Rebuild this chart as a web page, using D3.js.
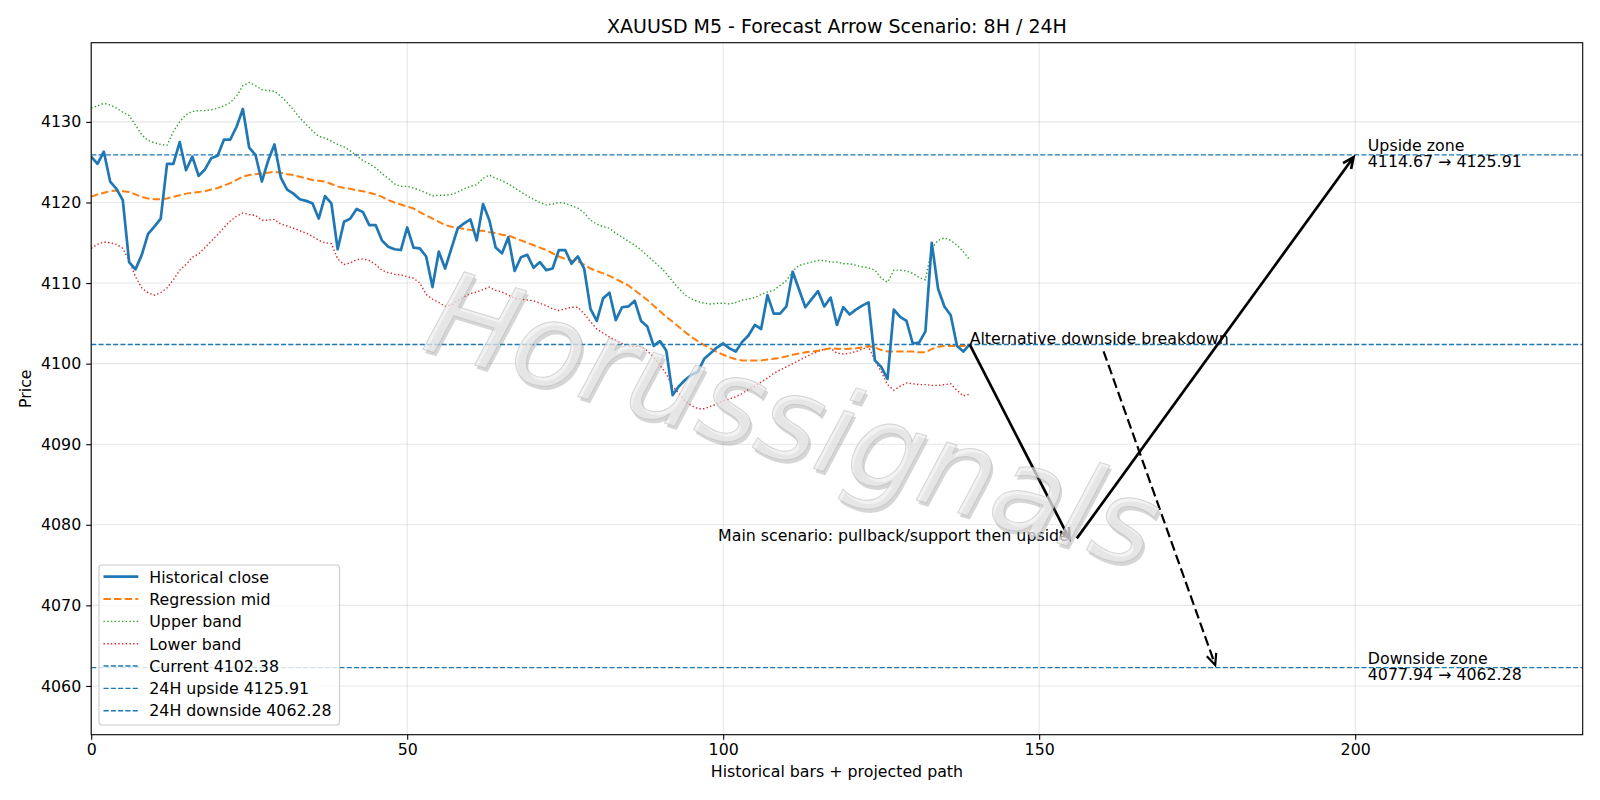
<!DOCTYPE html>
<html>
<head>
<meta charset="utf-8">
<script src="https://cdn.jsdelivr.net/npm/d3@7/dist/d3.min.js"></script>
<style>
  body { margin: 0; background: #fff; }
  svg text { font-family: "DejaVu Sans", sans-serif; fill: #000; }
</style>
</head>
<body>
<script>
// historical closes, one per M5 bar (0..139)
const closeSeries = [
  4125.7, 4124.8, 4126.3, 4122.6, 4121.7, 4120.3, 4112.6, 4111.7, 4113.5, 4116.1,
  4117.0, 4118.0, 4124.8, 4124.8, 4127.5, 4124.0, 4125.7, 4123.3, 4124.1, 4125.5,
  4125.8, 4127.8, 4127.8, 4129.4, 4131.6, 4126.8, 4125.9, 4122.6, 4125.2, 4127.2,
  4123.1, 4121.6, 4121.1, 4120.4, 4120.2, 4119.9, 4118.0, 4120.8, 4119.9, 4114.2,
  4117.6, 4118.0, 4119.2, 4118.8, 4117.2, 4117.2, 4115.3, 4114.5, 4114.2, 4114.1,
  4116.9, 4114.4, 4114.3, 4113.3, 4109.5, 4113.9, 4111.8, 4114.3, 4116.8, 4117.4,
  4117.9, 4115.3, 4119.8, 4117.8, 4114.4, 4113.7, 4115.7, 4111.5, 4113.2, 4113.5,
  4111.9, 4112.6, 4111.6, 4111.8, 4114.1, 4114.1, 4112.4, 4113.3, 4111.8, 4106.8,
  4105.3, 4108.1, 4108.8, 4105.4, 4107.0, 4107.1, 4107.8, 4105.3, 4104.6, 4102.2,
  4102.8, 4101.6, 4096.1, 4097.2, 4098.0, 4098.6, 4099.0, 4100.6, 4101.3, 4102.0,
  4102.5, 4101.9, 4101.5, 4102.7, 4103.5, 4104.8, 4104.3, 4108.5, 4106.2, 4106.2,
  4107.1, 4111.4, 4109.2, 4107.0, 4108.0, 4109.0, 4107.1, 4108.2, 4104.8, 4107.0,
  4106.1, 4106.7, 4107.2, 4107.6, 4100.4, 4099.6, 4098.1, 4106.7, 4105.8, 4105.3,
  4102.5, 4102.6, 4104.0, 4115.0, 4109.3, 4107.1, 4106.0, 4102.2, 4101.5, 4102.38
]

const midSeries = [
  4120.7, 4121.0, 4121.2, 4121.4, 4121.5, 4121.4, 4121.3, 4121.0, 4120.7, 4120.5,
  4120.4, 4120.4, 4120.5, 4120.7, 4120.9, 4121.1, 4121.2, 4121.3, 4121.4, 4121.6,
  4121.8, 4122.1, 4122.4, 4122.8, 4123.2, 4123.4, 4123.5, 4123.6, 4123.7, 4123.8,
  4123.7, 4123.5, 4123.4, 4123.2, 4123.0, 4122.8, 4122.7, 4122.6, 4122.3, 4122.0,
  4121.8, 4121.7, 4121.5, 4121.4, 4121.2, 4121.0, 4120.7, 4120.3, 4120.0, 4119.75,
  4119.5, 4119.25, 4118.8, 4118.4, 4118.0, 4117.6, 4117.2, 4117.0, 4116.9, 4116.7,
  4116.6, 4116.5, 4116.5, 4116.3, 4116.2, 4116.0, 4115.9, 4115.6, 4115.3, 4115.0,
  4114.7, 4114.4, 4114.1, 4113.7, 4113.3, 4113.0, 4112.8, 4112.7, 4112.3, 4111.8,
  4111.5, 4111.2, 4110.9, 4110.5, 4110.1, 4109.7, 4109.1, 4108.5, 4107.9, 4107.2,
  4106.5, 4105.8, 4105.2, 4104.55, 4103.9, 4103.3, 4102.8, 4102.3, 4101.9, 4101.45,
  4101.1, 4100.8, 4100.55, 4100.4, 4100.4, 4100.4, 4100.4, 4100.5, 4100.6, 4100.7,
  4100.9, 4101.1, 4101.25, 4101.4, 4101.5, 4101.6, 4101.75, 4101.9, 4101.85, 4101.8,
  4101.85, 4101.9, 4102.0, 4102.2, 4102.0, 4101.7, 4101.5, 4101.5, 4101.5, 4101.5,
  4101.5, 4101.4, 4101.4, 4101.8, 4102.1, 4102.2, 4102.2, 4102.2, 4102.2, 4102.3
]

const upperSeries = [
  4131.7, 4132.0, 4132.3, 4132.1, 4131.7, 4131.2, 4130.8, 4129.6, 4128.4, 4127.7,
  4127.4, 4127.2, 4127.1, 4128.8, 4130.0, 4130.9, 4131.3, 4131.4, 4131.4, 4131.5,
  4131.7, 4132.0, 4132.4, 4133.2, 4134.5, 4134.9, 4134.5, 4134.0, 4133.9, 4133.8,
  4133.2, 4132.4, 4131.5, 4130.5, 4129.7, 4128.9, 4128.2, 4128.0, 4127.6, 4127.2,
  4126.9, 4126.4, 4125.8, 4125.2, 4124.8, 4124.3, 4123.6, 4123.0, 4122.3, 4122.0,
  4122.0, 4121.8, 4121.5, 4121.2, 4120.8, 4120.9, 4120.9, 4121.0, 4121.3, 4121.7,
  4122.0, 4122.2, 4123.0, 4123.4, 4123.0, 4122.7, 4122.3, 4121.8, 4121.3, 4120.8,
  4120.4, 4120.0, 4119.7, 4119.8, 4120.0, 4119.9, 4119.6, 4119.3, 4118.7, 4117.8,
  4117.3, 4117.0, 4116.8, 4116.2, 4115.7, 4115.2, 4114.7, 4114.1, 4113.4, 4112.7,
  4112.0, 4111.2, 4110.2, 4109.3, 4108.5, 4108.0, 4107.7, 4107.5, 4107.4, 4107.5,
  4107.5, 4107.4, 4107.6, 4107.9, 4108.0, 4108.2, 4108.6, 4108.9, 4109.1, 4109.7,
  4110.3, 4111.5, 4112.2, 4112.4, 4112.6, 4112.8, 4112.8, 4112.6, 4112.6, 4112.4,
  4112.4, 4112.2, 4112.0, 4111.9, 4111.6, 4110.6, 4110.1, 4111.6, 4111.6, 4111.5,
  4111.2, 4110.7, 4110.4, 4114.3, 4115.3, 4115.6, 4115.3, 4114.7, 4113.9, 4112.9
]

const lowerSeries = [
  4114.3, 4114.8, 4115.1, 4115.0, 4114.8, 4114.3, 4112.8, 4110.8, 4109.4, 4108.8,
  4108.5, 4108.8, 4109.4, 4110.4, 4111.6, 4112.3, 4113.2, 4113.6, 4114.4, 4115.2,
  4116.0, 4116.9, 4117.7, 4118.3, 4118.7, 4118.5, 4118.4, 4117.8, 4117.8, 4117.9,
  4117.3, 4117.1, 4116.8, 4116.5, 4116.2, 4115.8, 4115.3, 4115.0, 4114.9, 4113.0,
  4112.3, 4112.5, 4112.9, 4113.0, 4112.8, 4112.3, 4111.6, 4111.3, 4111.1, 4111.0,
  4110.8, 4110.6, 4110.0, 4108.6, 4108.0, 4107.6, 4107.1, 4107.3, 4107.8, 4108.3,
  4108.7, 4108.9, 4109.2, 4109.5, 4109.1, 4108.9, 4108.5, 4108.1, 4108.0, 4107.9,
  4107.8, 4107.5, 4107.2, 4106.8, 4106.6, 4106.8, 4107.0, 4107.0, 4106.2, 4105.2,
  4104.3, 4103.8, 4103.3, 4102.9, 4102.5, 4102.2, 4102.1, 4102.1, 4101.6, 4100.8,
  4099.8, 4098.7, 4097.2, 4096.3, 4095.3, 4094.8, 4094.4, 4094.4, 4094.7, 4095.0,
  4095.4, 4095.6, 4095.9, 4096.3, 4096.8, 4097.2, 4097.7, 4098.2, 4098.8, 4099.2,
  4099.6, 4100.0, 4100.4, 4100.8, 4101.2, 4101.5, 4101.8, 4101.9, 4101.3, 4101.2,
  4101.3, 4101.5, 4101.8, 4102.1, 4100.4, 4099.0, 4097.4, 4096.7, 4097.2, 4097.6,
  4097.5, 4097.4, 4097.4, 4097.3, 4097.3, 4097.4, 4097.5, 4096.7, 4096.0, 4096.2
]

// horizontal reference levels
const levelNames = ["Current", "24H upside", "24H downside"]
const levelValues = [4102.38, 4125.91, 4062.28]

// projected path (bar index, price)
const mainBars = [139, 155, 200]
const mainPrices = [4102.38, 4077.94, 4125.91]
const altBars = [178]
const altPrices = [4062.28]

const zoneTitles = ["Upside zone", "Downside zone"]
const zoneFrom = [4114.67, 4077.94]
const zoneTo = [4125.91, 4062.28]

const xTicks = [0, 50, 100, 150, 200]
const yTicks = [4060, 4070, 4080, 4090, 4100, 4110, 4120, 4130]

const width = 1600
const height = 800
const margin = {top: 42.7, right: 17.3, bottom: 65.3, left: 91.2}
const fs = 15.8

const colors = {
    close: "#1f77b4",
    mid: "#ff7f0e",
    upper: "#2ca02c",
    lower: "#d62728",
    level: "#1f77b4"
}

const svg = d3.select("body").append("svg")
    .attr("width", width)
    .attr("height", height)

const x = d3.scaleLinear()
    .domain([0, 236])
    .range([margin.left, width - margin.right])

const y = d3.scaleLinear()
    .domain([4053.95, 4139.83])
    .range([height - margin.bottom, margin.top])

svg.append("defs").append("clipPath").attr("id", "clip")
    .append("rect")
    .attr("x", margin.left).attr("y", margin.top)
    .attr("width", width - margin.left - margin.right)
    .attr("height", height - margin.top - margin.bottom)

// grid
const grid = svg.append("g").attr("class", "grid")
grid.selectAll("line.gx").data(xTicks).enter().append("line")
    .attr("x1", d => x(d)).attr("x2", d => x(d))
    .attr("y1", margin.top).attr("y2", height - margin.bottom)
    .attr("stroke", "#b0b0b0").attr("stroke-opacity", 0.3).attr("stroke-width", 1.1)
grid.selectAll("line.gy").data(yTicks).enter().append("line")
    .attr("y1", d => y(d)).attr("y2", d => y(d))
    .attr("x1", margin.left).attr("x2", width - margin.right)
    .attr("stroke", "#b0b0b0").attr("stroke-opacity", 0.3).attr("stroke-width", 1.1)

const plot = svg.append("g").attr("clip-path", "url(#clip)")

const line = d3.line().x((d, i) => x(i)).y(d => y(d))

plot.append("path").datum(upperSeries)
    .attr("d", line).attr("fill", "none")
    .attr("stroke", colors.upper).attr("stroke-width", 1.4)
    .attr("stroke-dasharray", "1.4,2.3")

plot.append("path").datum(lowerSeries)
    .attr("d", line).attr("fill", "none")
    .attr("stroke", colors.lower).attr("stroke-width", 1.4)
    .attr("stroke-dasharray", "1.4,2.3")

plot.append("path").datum(midSeries)
    .attr("d", line).attr("fill", "none")
    .attr("stroke", colors.mid).attr("stroke-width", 2)
    .attr("stroke-dasharray", "7.4,3.2")

plot.append("path").datum(closeSeries)
    .attr("d", line).attr("fill", "none")
    .attr("stroke", colors.close).attr("stroke-width", 2.7)
    .attr("stroke-linejoin", "round")

plot.selectAll("line.level").data(levelValues).enter().append("line")
    .attr("class", "level")
    .attr("x1", margin.left).attr("x2", width - margin.right)
    .attr("y1", d => y(d)).attr("y2", d => y(d))
    .attr("stroke", colors.level).attr("stroke-width", 1.4)
    .attr("stroke-dasharray", "5.1,2.2")

// arrows
const drawArrow = (g, p0, p1, w, dash) => {
    const dx = p1[0] - p0[0], dy = p1[1] - p0[1]
    const len = Math.hypot(dx, dy)
    const ux = dx / len, uy = dy / len
    const tx = p1[0] - ux * 2.8, ty = p1[1] - uy * 2.8
    g.append("line")
        .attr("x1", p0[0]).attr("y1", p0[1])
        .attr("x2", tx - ux * 1).attr("y2", ty - uy * 1)
        .attr("stroke", "#000").attr("stroke-width", w)
        .attr("stroke-dasharray", dash || null)
    const hl = 11, hw = 5
    const bx = tx - ux * hl, by = ty - uy * hl
    g.append("path")
        .attr("d", `M${bx - uy * hw},${by + ux * hw}L${tx},${ty}L${bx + uy * hw},${by - ux * hw}`)
        .attr("fill", "none").attr("stroke", "#000").attr("stroke-width", w)
        .attr("stroke-linejoin", "miter")
}

const ann = svg.append("g")
const mainPts = mainBars.map((b, i) => [x(b), y(mainPrices[i])])
drawArrow(ann, mainPts[0], mainPts[1], 2.7)
drawArrow(ann, [mainPts[1][0] + 6, mainPts[1][1] - 3], mainPts[2], 2.7)

ann.append("text")
    .attr("x", mainPts[1][0] - 2).attr("y", mainPts[1][1])
    .attr("text-anchor", "end")
    .style("font-size", fs + "px")
    .text("Main scenario: pullback/support then upside")

const altText = ann.append("text")
    .attr("x", mainPts[0][0]).attr("y", mainPts[0][1])
    .style("font-size", fs + "px")
    .text("Alternative downside breakdown")
const bb = altText.node().getBBox()
const altTarget = [x(altBars[0]), y(altPrices[0])]
const cx = bb.x + bb.width / 2, cy = bb.y + bb.height / 2
const bottom = bb.y + bb.height + 2.8
const t = (bottom - cy) / (altTarget[1] - cy)
drawArrow(ann, [cx + t * (altTarget[0] - cx), bottom], altTarget, 2.2, "10,4.4")

// zone labels
zoneTitles.forEach((title, i) => {
    const ty = y(zoneTo[i])
    const tx = x(202)
    ann.append("text").attr("x", tx).attr("y", ty - 4)
        .style("font-size", fs + "px").text(title)
    ann.append("text").attr("x", tx).attr("y", ty + 12.3)
        .style("font-size", fs + "px")
        .text(zoneFrom[i].toFixed(2) + " \u2192 " + zoneTo[i].toFixed(2))
})

// watermark
const wm = svg.append("g")
    .attr("transform", `translate(791,428) rotate(17)`)
wm.append("text")
    .attr("x", 3).attr("y", 3)
    .attr("text-anchor", "middle").attr("dominant-baseline", "middle")
    .style("font-size", "118px").style("font-style", "italic")
    .style("fill", "#777").style("fill-opacity", 0.3)
    .text("Horussignals")
wm.append("text")
    .attr("text-anchor", "middle").attr("dominant-baseline", "middle")
    .style("font-size", "118px").style("font-style", "italic")
    .style("fill", "#ececec").style("fill-opacity", 0.7)
    .style("stroke", "#bdbdbd").style("stroke-width", 1).style("stroke-opacity", 0.6)
    .text("Horussignals")

// axes
const xAxis = svg.append("g")
    .attr("transform", `translate(0,${height - margin.bottom})`)
    .call(d3.axisBottom(x).tickValues(xTicks).tickSize(5).tickPadding(4).tickFormat(d3.format("d")))
const yAxis = svg.append("g")
    .attr("transform", `translate(${margin.left},0)`)
    .call(d3.axisLeft(y).tickValues(yTicks).tickSize(5).tickPadding(5).tickFormat(d3.format("d")))
for (const ax of [xAxis, yAxis]) {
    ax.selectAll(".domain").remove()
    ax.selectAll("text").style("font-size", fs + "px").attr("fill", "#000")
        .style("font-family", "DejaVu Sans, sans-serif")
    ax.selectAll("line").attr("stroke", "#000").attr("stroke-width", 1.1)
}

svg.append("rect")
    .attr("x", margin.left).attr("y", margin.top)
    .attr("width", width - margin.left - margin.right)
    .attr("height", height - margin.top - margin.bottom)
    .attr("fill", "none").attr("stroke", "#000").attr("stroke-width", 1.1)

// titles
svg.append("text")
    .attr("x", (margin.left + width - margin.right) / 2).attr("y", 32.5)
    .attr("text-anchor", "middle").style("font-size", "19px")
    .text("XAUUSD M5 - Forecast Arrow Scenario: 8H / 24H")
svg.append("text")
    .attr("x", (margin.left + width - margin.right) / 2).attr("y", 777)
    .attr("text-anchor", "middle").style("font-size", fs + "px")
    .text("Historical bars + projected path")
svg.append("text")
    .attr("transform", `translate(31,${(margin.top + height - margin.bottom) / 2}) rotate(-90)`)
    .attr("text-anchor", "middle").style("font-size", fs + "px")
    .text("Price")

// legend
const legendItems = [
    {label: "Historical close", color: colors.close, w: 2.7, dash: null},
    {label: "Regression mid", color: colors.mid, w: 2, dash: "7.4,3.2"},
    {label: "Upper band", color: colors.upper, w: 1.4, dash: "1.4,2.3"},
    {label: "Lower band", color: colors.lower, w: 1.4, dash: "1.4,2.3"}
].concat(levelNames.map((n, i) => ({
    label: n + " " + levelValues[i].toFixed(2), color: colors.level, w: 1.4, dash: "5.1,2.2"
})))

const legend = svg.append("g")
legend.append("rect")
    .attr("x", 99).attr("y", 565).attr("width", 240.5).attr("height", 160)
    .attr("rx", 3).attr("fill", "#fff").attr("fill-opacity", 0.8)
    .attr("stroke", "#cccccc").attr("stroke-width", 1.1)

const rows = legend.selectAll("g.row").data(legendItems).enter().append("g")
    .attr("transform", (d, i) => `translate(0,${576.7 + i * 22.33})`)
rows.append("line")
    .attr("x1", 103.5).attr("x2", 138.3)
    .attr("stroke", d => d.color).attr("stroke-width", d => d.w)
    .attr("stroke-dasharray", d => d.dash)
rows.append("text")
    .attr("x", 149.3).attr("y", 5.8)
    .style("font-size", fs + "px")
    .text(d => d.label)
</script>
</body>
</html>
